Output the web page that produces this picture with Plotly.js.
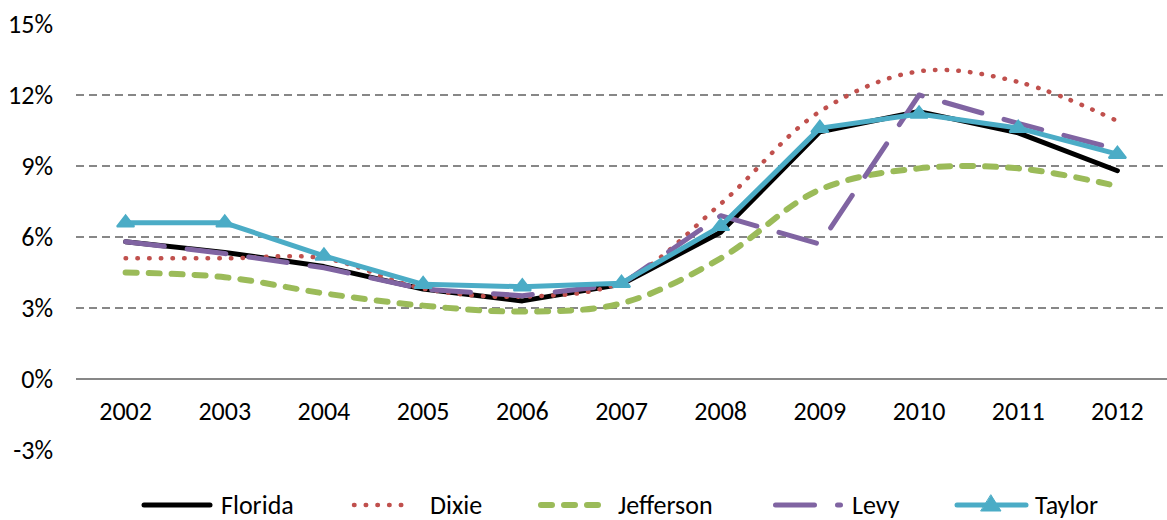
<!DOCTYPE html>
<html>
<head>
<meta charset="utf-8">
<script src="https://cdn.plot.ly/plotly-3.0.1.min.js"></script>
<style>
  html, body { margin: 0; padding: 0; background: #fff; }
  #chart { width: 1167px; height: 520px; }
  /* rounded ends for series lines and the legend keys */
  .scatterlayer .js-line, .shapelayer path { stroke-linecap: round; stroke-linejoin: round; }
</style>
</head>
<body>
<div id="chart"></div>
<script>
// Unemployment rate by year (%), Florida and four counties
const years = ['2002', '2003', '2004', '2005', '2006', '2007', '2008', '2009', '2010', '2011', '2012'];
const florida   = [5.8, 5.35, 4.75, 3.8, 3.3, 4.0, 6.2, 10.45, 11.3, 10.4, 8.8];
const dixie     = [5.1, 5.1, 5.1, 3.82, 3.48, 4.1, 7.4, 11.3, 13.0, 12.55, 10.9];
const jefferson = [4.5, 4.3, 3.62, 3.1, 2.85, 3.2, 5.1, 8.0, 8.9, 8.9, 8.15];
const levy      = [5.8, 5.3, 4.7, 3.8, 3.52, 4.0, 6.9, 5.7, 12.0, 10.8, 9.7];
const taylor    = [6.6, 6.6, 5.2, 4.0, 3.9, 4.05, 6.45, 10.6, 11.2, 10.6, 9.5];

const seriesNames = ['Florida', 'Dixie', 'Jefferson', 'Levy', 'Taylor'];
const yTicks = [-3, 0, 3, 6, 9, 12, 15];
const yTickLabels = ['-3%', '0%', '3%', '6%', '9%', '12%', '15%'];

const FONT = 'Carlito, Calibri, Lato, sans-serif';
const FS = 26;

const styles = [
  { color: '#000000', width: 5,   dash: 'solid',        shape: 'linear' },
  { color: '#C0504D', width: 4.5, dash: '0.5px,11.2px', shape: 'spline' },
  { color: '#9BBB59', width: 6,   dash: '11px,12px',    shape: 'spline' },
  { color: '#8064A2', width: 5,   dash: '39px,23px',    shape: 'linear' },
  { color: '#4BACC6', width: 5,   dash: 'solid',        shape: 'linear' }
];
const values = [florida, dixie, jefferson, levy, taylor];

const traces = values.map((v, i) => {
  const s = styles[i];
  const t = {
    type: 'scatter',
    x: years,
    y: v,
    name: seriesNames[i],
    mode: i === 4 ? 'lines+markers' : 'lines',
    line: { color: s.color, width: s.width, dash: s.dash, shape: s.shape, smoothing: 1 },
    hoverinfo: 'x+y+name'
  };
  if (i === 4) {
    t.marker = { symbol: 'triangle-up', size: 15, color: s.color, line: { color: s.color, width: 2 } };
  }
  return t;
});

// plot box in pixels, used to place the legend keys below it
const L = 76, R = 0, T = 24, B = 70, W = 1167, H = 520;
const pw = W - L - R, ph = H - T - B;
const px = x => (x - L) / pw;
const py = y => (H - B - y) / ph;

// legend keys: start of key, end of key, start of label
const legendRow = 505;
const legendPos = [
  [144, 210, 219],
  [354, 412, 428],
  [541, 599, 616],
  [775.5, 840.5, 850],
  [957, 1026, 1033]
];

const shapes = [];
const annotations = [];
legendPos.forEach((p, i) => {
  const s = styles[i];
  shapes.push({
    type: 'line', xref: 'paper', yref: 'paper',
    x0: px(p[0]), x1: px(p[1]), y0: py(legendRow), y1: py(legendRow),
    line: { color: s.color, width: s.width, dash: s.dash }
  });
  annotations.push({
    xref: 'paper', yref: 'paper', x: px(p[2]), y: py(legendRow),
    xanchor: 'left', yanchor: 'middle', showarrow: false,
    text: seriesNames[i], font: { family: FONT, size: FS, color: '#000' }
  });
});
// triangle on the Taylor key
shapes.push({
  type: 'path', xref: 'paper', yref: 'paper',
  xsizemode: 'pixel', ysizemode: 'pixel',
  xanchor: px(991), yanchor: py(legendRow),
  path: 'M-10,-6 L10,-6 L0,10 Z',
  fillcolor: styles[4].color, line: { color: styles[4].color, width: 1 }
});

const layout = {
  width: W, height: H,
  margin: { l: L, r: R, t: T, b: B, pad: 0 },
  paper_bgcolor: '#fff', plot_bgcolor: '#fff',
  showlegend: false,
  font: { family: FONT, size: FS, color: '#000' },
  xaxis: {
    type: 'category', range: [-0.5, 10.5],
    anchor: 'free', position: 1 / 6,
    showgrid: false, zeroline: false, showline: false,
    ticks: '', ticklabelstandoff: 14,
    tickfont: { family: FONT, size: FS, color: '#000' },
    fixedrange: true
  },
  yaxis: {
    range: [-3, 15], tickmode: 'array', tickvals: yTicks, ticktext: yTickLabels,
    showgrid: true, gridcolor: '#878787', gridwidth: 1.5, griddash: '8px,5px',
    zeroline: true, zerolinecolor: '#878787', zerolinewidth: 1.5,
    showline: false, ticks: '', ticklabelstandoff: 22,
    tickfont: { family: FONT, size: FS, color: '#000' },
    fixedrange: true
  },
  shapes: shapes,
  annotations: annotations
};

Plotly.newPlot('chart', traces, layout, { displayModeBar: false, staticPlot: true });
</script>
</body>
</html>
